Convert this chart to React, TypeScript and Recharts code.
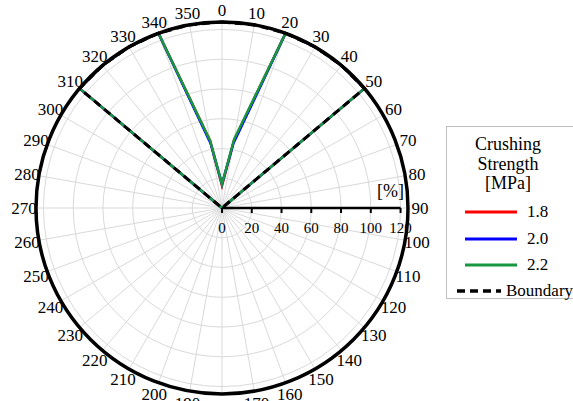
import React from "react";
import {
  RadarChart,
  Radar,
  PolarGrid,
  PolarAngleAxis,
  PolarRadiusAxis,
} from "recharts";

// angle categories, clockwise from the top
const angleLabels = [
  "0", "10", "20", "30", "40", "50", "60", "70", "80", "90", "100", "110",
  "120", "130", "140", "150", "160", "170", "180", "190", "200", "210", "220", "230",
  "240", "250", "260", "270", "280", "290", "300", "310", "320", "330", "340", "350",
];

const radiusTicks = [0, 20, 40, 60, 80, 100, 120];
const radiusMax = 125;

// deformation [%] per angle, null where nothing was measured
const strength18 = [
  15, 46, 125, 125, 125, 125, null, null, null, null, null, null,
  null, null, null, null, null, null, null, null, null, null, null, null,
  null, null, null, null, null, null, null, 125, 125, 125, 125, 46,
];
const strength20 = [
  16, 44, 125, 125, 125, 125, null, null, null, null, null, null,
  null, null, null, null, null, null, null, null, null, null, null, null,
  null, null, null, null, null, null, null, 125, 125, 125, 125, 44,
];
const strength22 = [
  16, 47, 125, 125, 125, 125, null, null, null, null, null, null,
  null, null, null, null, null, null, null, null, null, null, null, null,
  null, null, null, null, null, null, null, 125, 125, 125, 125, 46,
];
const boundary = [
  125, 125, 125, 125, 125, 125, 0, null, null, null, null, null,
  null, null, null, null, null, null, null, null, null, null, null, null,
  null, null, null, null, null, null, 0, 125, 125, 125, 125, 125,
];

const series = [
  { key: "s18", name: "1.8", color: "#ff0000", values: strength18 },
  { key: "s20", name: "2.0", color: "#0000ff", values: strength20 },
  { key: "s22", name: "2.2", color: "#17973f", values: strength22 },
];

const data = angleLabels.map((angle, i) => ({
  angle,
  s18: strength18[i],
  s20: strength20[i],
  s22: strength22[i],
  boundary: boundary[i],
}));

const serif = '"Liberation Serif", "Times New Roman", Times, "DejaVu Serif", serif';

const AngleTick = (props: any) => {
  const { x, y, payload } = props;
  return (
    <text x={x} y={y} dy="0.35em" textAnchor="middle" fontSize={17} fill="#000" style={{ fontFamily: serif }}>
      {payload.value}
    </text>
  );
};

const RadiusTick = (props: any) => {
  const { x, y, payload } = props;
  return (
    <g>
      <line x1={x} y1={y} x2={x} y2={y + 5} stroke="#000" strokeWidth={2} />
      <text x={x} y={y + 20} dy="0.35em" textAnchor="middle" fontSize={15} fill="#000" style={{ fontFamily: serif }}>
        {payload.value}
      </text>
    </g>
  );
};

function Legend() {
  return (
    <div
      style={{
        position: "absolute",
        left: 446,
        top: 126,
        width: 160,
        height: 171,
        border: "1px solid #bfbfbf",
        background: "#fff",
        fontFamily: serif,
        color: "#000",
      }}
    >
      <div style={{ position: "absolute", left: 0, top: 8, width: 122, textAlign: "center", fontSize: 18, lineHeight: "19.5px" }}>
        Crushing
        <br />
        Strength
        <br />
        [MPa]
      </div>
      {series.map((s, i) => (
        <div key={s.key} style={{ position: "absolute", left: 0, top: 75 + i * 26.5, height: 20, width: 160 }}>
          <svg width={60} height={20} style={{ position: "absolute", left: 18, top: 0 }}>
            <line x1={0} y1={10} x2={52} y2={10} stroke={s.color} strokeWidth={3} />
          </svg>
          <span style={{ position: "absolute", left: 80, top: 0, fontSize: 17, lineHeight: "20px" }}>{s.name}</span>
        </div>
      ))}
      <div style={{ position: "absolute", left: 0, top: 154, height: 20, width: 160 }}>
        <svg width={50} height={20} style={{ position: "absolute", left: 10, top: 0 }}>
          <line x1={0} y1={10} x2={44} y2={10} stroke="#000" strokeWidth={3.5} strokeDasharray="8 5" />
        </svg>
        <span style={{ position: "absolute", left: 59, top: 0, fontSize: 17, lineHeight: "20px" }}>Boundary</span>
      </div>
    </div>
  );
}

export default function App() {
  return (
    <div style={{ position: "absolute", left: 0, top: 0, width: 573, height: 401, overflow: "hidden", background: "#fff", fontFamily: serif }}>
      <RadarChart
        width={573}
        height={401}
        data={data}
        cx={222}
        cy={208}
        outerRadius={186}
        startAngle={90}
        endAngle={-270}
        margin={{ top: 0, right: 0, bottom: 0, left: 0 }}
      >
        <PolarGrid gridType="circle" stroke="#d9d9d9" strokeWidth={1} />
        <PolarAngleAxis
          dataKey="angle"
          axisLineType="circle"
          axisLine={{ stroke: "#000", strokeWidth: 3.5 }}
          tickLine={false}
          tickSize={12}
          tick={<AngleTick />}
        />
        {series.map((s) => (
          <Radar
            key={s.key}
            dataKey={s.key}
            name={s.name}
            stroke={s.color}
            strokeWidth={2.5}
            fill="none"
            isAnimationActive={false}
          />
        ))}
        <Radar
          dataKey="boundary"
          name="Boundary"
          stroke="#000"
          strokeWidth={3}
          strokeDasharray="8 5"
          fill="none"
          isAnimationActive={false}
        />
        <PolarRadiusAxis
          angle={0}
          type="number"
          domain={[0, radiusMax]}
          ticks={radiusTicks}
          axisLine={{ stroke: "#000", strokeWidth: 2.5 }}
          tick={<RadiusTick />}
        />
      </RadarChart>
      <div style={{ position: "absolute", left: 377, top: 181, fontSize: 18, lineHeight: "20px", color: "#000" }}>[%]</div>
      <Legend />
    </div>
  );
}
